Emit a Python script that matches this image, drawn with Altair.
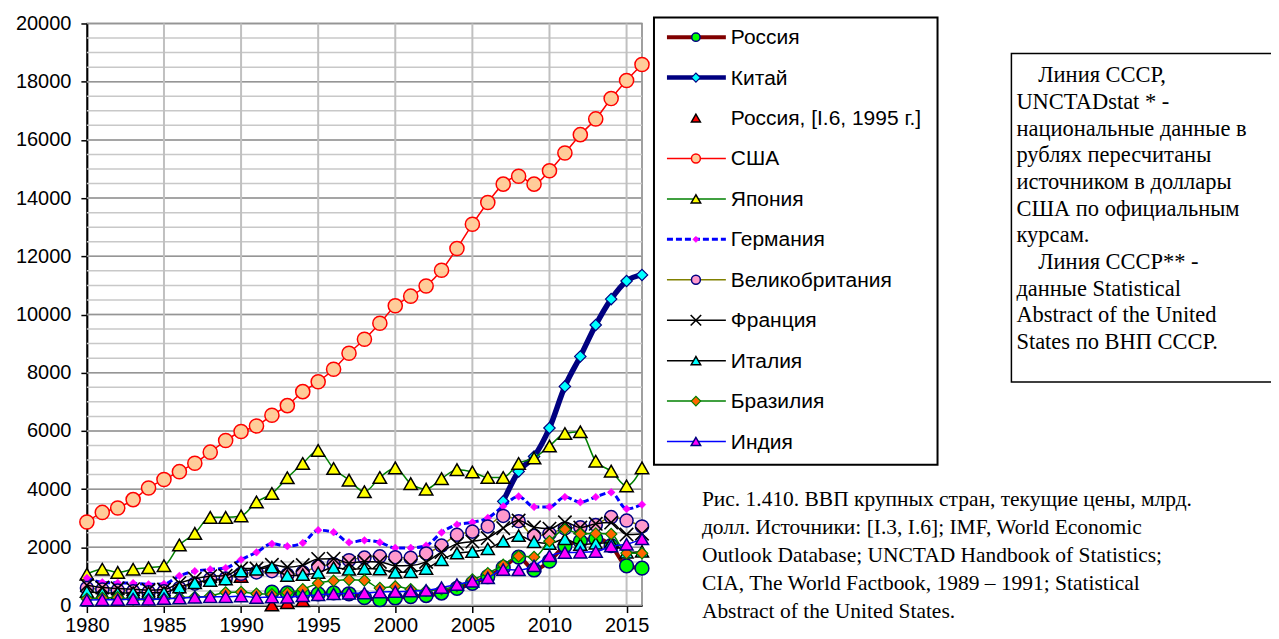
import altair as alt
import pandas as pd

N = None
years = list(range(1980, 2017))

# ---- series values (billion USD, current prices), 1980..2016 ----
russia = [N] * 12 + [460, 435, 395, 400, 435, 405, 270, 200, 260, 307, 345, 430, 591,
                     764, 990, 1300, 1661, 1222, 1525, 2045, 2208, 2292, 2059, 1363, 1283]
china = [N] * 27 + [3580, 4610, 5120, 6100, 7530, 8560, 9640, 10530, 11150, 11360]
russia_i6 = [N] * 10 + [1000, N, 20, 100, 170] + [N] * 22
usa = [2870, 3200, 3350, 3640, 4040, 4330, 4600, 4890, 5270, 5670,
       5980, 6170, 6540, 6870, 7350, 7690, 8120, 8670, 9150, 9700,
       10300, 10630, 10980, 11520, 12270, 13100, 13850, 14480, 14750, 14480,
       14940, 15550, 16180, 16720, 17420, 18040, 18590]
japan = [1080, 1250, 1140, 1250, 1300, 1370, 2080, 2480, 3030, 3030,
         3080, 3560, 3850, 4390, 4880, 5330, 4710, 4310, 3910, 4400,
         4730, 4190, 4000, 4360, 4670, 4590, 4400, 4400, 4880, 5070,
         5480, 5910, 5970, 4960, 4620, 4110, 4730]
germany = [950, 800, 780, 770, 730, 740, 1020, 1180, 1240, 1290,
           1580, 1830, 2120, 2040, 2150, 2590, 2520, 2170, 2240, 2170,
           1980, 1980, 2060, 2510, 2780, 2860, 3010, 3410, 3750, 3390,
           3390, 3730, 3550, 3730, 3890, 3320, 3470]
uk = [600, 550, 520, 490, 460, 490, 600, 750, 910, 930,
      1090, 1140, 1180, 1060, 1140, 1340, 1420, 1560, 1650, 1690,
      1660, 1640, 1790, 2060, 2430, 2540, 2720, 3080, 2900, 2400,
      2470, 2650, 2690, 2770, 3040, 2920, 2720]
france = [700, 620, 590, 560, 530, 550, 770, 920, 1010, 1020,
          1270, 1270, 1400, 1320, 1390, 1600, 1610, 1460, 1510, 1500,
          1370, 1380, 1500, 1840, 2120, 2200, 2320, 2660, 2920, 2690,
          2640, 2860, 2680, 2810, 2850, 2440, 2470]
italy = [480, 430, 430, 440, 440, 450, 630, 780, 860, 910,
         1180, 1240, 1320, 1030, 1060, 1130, 1310, 1240, 1270, 1250,
         1140, 1160, 1270, 1570, 1800, 1850, 1950, 2210, 2400, 2190,
         2130, 2290, 2090, 2140, 2160, 1830, 1860]
brazil = [235, 263, 281, 203, 209, 223, 268, 294, 330, 447,
          462, 407, 390, 438, 558, 769, 850, 883, 864, 599,
          655, 560, 509, 558, 669, 892, 1107, 1397, 1696, 1667,
          2209, 2616, 2465, 2472, 2456, 1802, 1796]
india = [189, 196, 203, 222, 215, 236, 253, 283, 299, 301,
         327, 274, 293, 284, 333, 367, 400, 423, 429, 466,
         477, 494, 524, 618, 722, 834, 949, 1238, 1224, 1365,
         1708, 1823, 1828, 1857, 2039, 2104, 2290]

names = ["Россия", "Китай", "Россия, [I.6, 1995 г.]", "США", "Япония", "Германия",
         "Великобритания", "Франция", "Италия", "Бразилия", "Индия"]
series_vals = [russia, china, russia_i6, usa, japan, germany, uk, france, italy, brazil, india]

x_ticks = list(range(1980, 2016, 5))
y_ticks = list(range(0, 20001, 2000))
y_minor = list(range(500, 20000, 500))

note_lines = ["Линия СССР,", "UNCTADstat * -", "национальные данные в", "рублях пересчитаны",
              "источником в доллары", "США по официальным", "курсам.", "Линия СССР** -",
              "данные Statistical", "Abstract of  the United", "States по ВНП СССР."]
note_indent = [True, False, False, False, False, False, False, True, False, False, False]
caption_lines = ["Рис. 1.410. ВВП крупных стран, текущие цены, млрд.",
                 "долл. Источники: [I.3, I.6]; IMF, World Economic",
                 "Outlook Database; UNCTAD Handbook of Statistics;",
                 "CIA, The World Factbook, 1989 – 1991; Statistical",
                 "Abstract of  the United States."]

# ---- styles ----
SANS = "Liberation Sans"
SERIF = "Liberation Serif"
XMARK = "M-1,-1L1,1M-1,1L1,-1"
styles = [
    dict(line=dict(color="#800000", strokeWidth=4), pt=dict(shape="circle", fill="#00FF00", stroke="#000080", size=190, strokeWidth=1.5), lsize=70),
    dict(line=dict(color="#000080", strokeWidth=5.5), pt=dict(shape="diamond", fill="#00FFFF", stroke="#000080", size=130, strokeWidth=1.2), lsize=80),
    dict(line=None, pt=dict(shape="triangle-up", fill="#FF0000", stroke="#000000", size=180, strokeWidth=1.5), lsize=80),
    dict(line=dict(color="#FF0000", strokeWidth=1.5), pt=dict(shape="circle", fill="#FFCC99", stroke="#FF0000", size=200, strokeWidth=1.5), lsize=80),
    dict(line=dict(color="#008000", strokeWidth=1.5), pt=dict(shape="triangle-up", fill="#FFFF00", stroke="#000000", size=180, strokeWidth=1.5), lsize=90),
    dict(line=dict(color="#0000FF", strokeWidth=3, strokeDash=[6, 3]), pt=dict(shape="diamond", fill="#FF00FF", stroke="#FF00FF", size=60, strokeWidth=0.5), lsize=40),
    dict(line=dict(color="#808000", strokeWidth=1.5), pt=dict(shape="circle", fill="#FF99CC", stroke="#000080", size=170, strokeWidth=1.5), lsize=80),
    dict(line=dict(color="#000000", strokeWidth=1.5), pt=dict(shape=XMARK, fill="none", stroke="#000000", size=180, strokeWidth=1.6, filled=False), lsize=110),
    dict(line=dict(color="#000000", strokeWidth=1.5), pt=dict(shape="triangle-up", fill="#00FFFF", stroke="#000000", size=170, strokeWidth=1.5), lsize=90),
    dict(line=dict(color="#008000", strokeWidth=1.5), pt=dict(shape="diamond", fill="#FF6600", stroke="#008000", size=130, strokeWidth=1.2), lsize=90),
    dict(line=dict(color="#0000FF", strokeWidth=1.5), pt=dict(shape="triangle-up", fill="#FF00FF", stroke="#000080", size=170, strokeWidth=1.5), lsize=90),
]

xscale = alt.Scale(domain=[1980, 2016], nice=False, zero=False)
yscale = alt.Scale(domain=[0, 20000], nice=False, zero=True)
xaxis = alt.Axis(values=x_ticks, format="d", labelFont=SANS, labelFontSize=20, labelColor="black",
                 labelFlush=False, labelPadding=3, tickSize=7, tickColor="black", tickWidth=1.5,
                 domainColor="black", domainWidth=2, grid=False, title=None)
yaxis = alt.Axis(values=y_ticks, format="d", labelFont=SANS, labelFontSize=20, labelColor="black",
                 labelPadding=10, tickSize=6, tickColor="black", tickWidth=1.5,
                 domainColor="black", domainWidth=2, grid=False, title=None)

layers = []
# gridlines
layers.append(alt.Chart(pd.DataFrame({"v": y_minor})).mark_rule(color="#c8c8c8", strokeWidth=1.5)
              .encode(y=alt.Y("v:Q", scale=yscale, axis=yaxis)))
layers.append(alt.Chart(pd.DataFrame({"v": y_ticks})).mark_rule(color="#959595", strokeWidth=1.5)
              .encode(y=alt.Y("v:Q", scale=yscale, axis=yaxis)))
layers.append(alt.Chart(pd.DataFrame({"yr": x_ticks[1:]})).mark_rule(color="#c0c0c0", strokeWidth=2)
              .encode(x=alt.X("yr:Q", scale=xscale, axis=xaxis)))

# series
for vals, st in zip(series_vals, styles):
    df = pd.DataFrame({"year": years, "value": vals}).dropna()
    base = alt.Chart(df).encode(x=alt.X("year:Q", scale=xscale, axis=xaxis),
                                y=alt.Y("value:Q", scale=yscale, axis=yaxis))
    if st["line"] is not None:
        layers.append(base.mark_line(interpolate="monotone", **st["line"]))
    p = dict(st["pt"])
    filled = p.pop("filled", True)
    layers.append(base.mark_point(filled=filled, opacity=1, **p))

# legend (drawn in pixel space to the right of the plot)
one = pd.DataFrame({"k": [0]})
layers.append(alt.Chart(one).mark_rect(fill="white", stroke="black", strokeWidth=2).encode(
    x=alt.value(568), x2=alt.value(852), y=alt.value(-6), y2=alt.value(442)))
for i, (nm, st) in enumerate(zip(names, styles)):
    yy = 13.7 + 40.5 * i
    if st["line"] is not None:
        ls = dict(st["line"])
        ls["strokeWidth"] = min(ls["strokeWidth"], 4.5)
        layers.append(alt.Chart(one).mark_rule(**ls).encode(
            x=alt.value(581), x2=alt.value(640), y=alt.value(yy)))
    p = dict(st["pt"])
    filled = p.pop("filled", True)
    p["size"] = st["lsize"]
    layers.append(alt.Chart(one).mark_point(filled=filled, opacity=1, **p).encode(
        x=alt.value(610), y=alt.value(yy)))
    layers.append(alt.Chart(one).mark_text(text=nm, align="left", baseline="middle", font=SANS,
                                           fontSize=21, color="black").encode(
        x=alt.value(645), y=alt.value(yy + 1)))

# note box
layers.append(alt.Chart(one).mark_rect(fill="white", stroke="black", strokeWidth=1.5).encode(
    x=alt.value(926), x2=alt.value(1189), y=alt.value(30), y2=alt.value(359)))
for i, (ln, ind) in enumerate(zip(note_lines, note_indent)):
    layers.append(alt.Chart(one).mark_text(text=ln, align="left", baseline="middle", font=SERIF,
                                           fontSize=22.5, color="black").encode(
        x=alt.value(953 if ind else 931), y=alt.value(52 + 26.7 * i)))

# caption
for i, ln in enumerate(caption_lines):
    layers.append(alt.Chart(one).mark_text(text=ln, align="left", baseline="middle", font=SERIF,
                                           fontSize=21.5, color="black").encode(
        x=alt.value(616), y=alt.value(477 + 28 * i)))

chart = alt.layer(*layers).properties(
    width=556, height=583,
    padding={"left": 79, "top": 15, "right": 630, "bottom": 33},
    autosize=alt.AutoSizeParams(type="none"),
).configure_view(stroke="#808080", strokeWidth=1.5)

chart.save("out.html", embed_options={"renderer": "svg", "actions": False})
